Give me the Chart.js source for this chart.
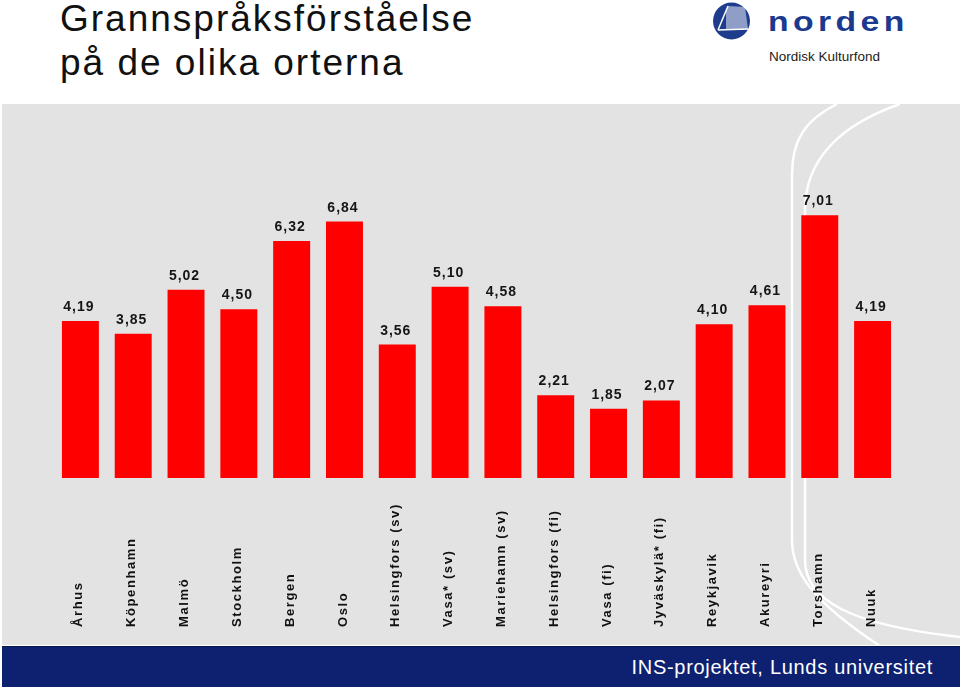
<!DOCTYPE html>
<html lang="sv">
<head>
  <meta charset="UTF-8">
  <title>Grannspråksförståelse</title>
  <script src="https://cdn.jsdelivr.net/npm/chart.js"></script>
  <style>
    body { margin: 0; background: #fff; font-family: "Liberation Sans", Arial, Helvetica, sans-serif; }
    #page { position: relative; width: 960px; height: 687px; overflow: hidden; }
    #title { position: absolute; left: 60px; top: -3px; font-size: 37px; line-height: 44px; letter-spacing: 2px; color: #111; }
    #norden { position: absolute; left: 768px; top: 7px; font-size: 27px; line-height: 30px; font-weight: bold;
              letter-spacing: 3.5px; color: #1b3a8f; transform: scaleX(1.25); transform-origin: left top; }
    #fond { position: absolute; left: 769px; top: 49px; font-size: 13.5px; line-height: 16px; color: #222; }
    #panel { position: absolute; left: 2px; top: 104px; width: 958px; height: 541px; background: #e3e3e3; }
    #deco { position: absolute; left: 0; top: 0; }
    #footer { position: absolute; left: 2px; top: 646px; width: 931px; height: 40px; padding-right: 27px;
              background: #0d2170; border-top: 1px solid #081650; color: #fff; font-size: 20px; line-height: 40px;
              letter-spacing: 0.7px; text-align: right; box-sizing: content-box; }
    #chart { position: absolute; left: 0; top: 103px; }
  </style>
</head>
<body>
<div id="page">
  <div id="title">Grannspråksförståelse<br>på de olika orterna</div>

  <!-- logo -->
  <svg style="position:absolute;left:0;top:0" width="960" height="60">
    <defs><clipPath id="sail"><path d="M718 30 L728 6 L745 7 L748 29 Z"/></clipPath></defs>
    <circle cx="731.5" cy="21" r="18.5" fill="#1e3c8c"/>
    <g clip-path="url(#sail)" stroke="#fff" stroke-width="1">
      <line x1="727" y1="4" x2="727" y2="32"/><line x1="729" y1="4" x2="729" y2="32"/>
      <line x1="731" y1="4" x2="731" y2="32"/><line x1="733" y1="4" x2="733" y2="32"/>
      <line x1="735" y1="4" x2="735" y2="32"/><line x1="737" y1="4" x2="737" y2="32"/>
      <line x1="739" y1="4" x2="739" y2="32"/><line x1="741" y1="4" x2="741" y2="32"/>
      <line x1="743" y1="4" x2="743" y2="32"/><line x1="745" y1="4" x2="745" y2="32"/>
      <line x1="747" y1="4" x2="747" y2="32"/>
    </g>
    <path d="M718 30 L728 6" stroke="#fff" stroke-width="1.5" fill="none"/>
    <path d="M718 30 L748 29" stroke="#fff" stroke-width="1.5" fill="none"/>
  </svg>
  <div id="norden">norden</div>
  <div id="fond">Nordisk Kulturfond</div>

  <div id="panel"></div>
  <svg id="deco" width="960" height="687">
    <path d="M837 104 C805 120 792 140 792 175 L792 540 C792 570 810 600 880 646" stroke="#fff" stroke-width="2.5" fill="none"/>
    <path d="M900 104 C840 125 805 160 805 210 L805 560 C805 600 850 625 960 637" stroke="#fff" stroke-width="2.5" fill="none"/>
  </svg>

  <canvas id="chart" width="960" height="542"></canvas>

  <div id="footer">INS-projektet, Lunds universitet</div>
</div>

<script>
  const places = ['Århus', 'Köpenhamn', 'Malmö', 'Stockholm', 'Bergen', 'Oslo',
    'Helsingfors (sv)', 'Vasa* (sv)', 'Mariehamn (sv)', 'Helsingfors (fi)', 'Vasa (fi)',
    'Jyväskylä* (fi)', 'Reykjavik', 'Akureyri', 'Torshamn', 'Nuuk'];
  const scores = [4.19, 3.85, 5.02, 4.50, 6.32, 6.84, 3.56, 5.10, 4.58, 2.21, 1.85, 2.07, 4.10, 4.61, 7.01, 4.19];

  const fontFam = '"Liberation Sans", Arial, Helvetica, sans-serif';

  // value labels above the bars and vertical place names below
  const labelPlugin = {
    id: 'labels',
    afterDatasetsDraw(chart) {
      const ctx = chart.ctx;
      const meta = chart.getDatasetMeta(0);
      ctx.save();
      ctx.fillStyle = '#151515';
      ctx.font = 'bold 14px ' + fontFam;
      ctx.letterSpacing = '1px';
      ctx.textAlign = 'center';
      ctx.textBaseline = 'alphabetic';
      meta.data.forEach((bar, i) => {
        ctx.fillText(scores[i].toFixed(2).replace('.', ','), bar.x - 1.5, bar.y - 10);
      });

      const xScale = chart.scales.x;
      ctx.font = 'bold 13px ' + fontFam;
      ctx.letterSpacing = '1.6px';
      ctx.fillStyle = '#111';
      ctx.textAlign = 'left';
      ctx.textBaseline = 'middle';
      places.forEach((p, i) => {
        const x = xScale.getPixelForValue(i) - 1.5;
        ctx.save();
        ctx.translate(x, 524);
        ctx.rotate(-Math.PI / 2);
        ctx.fillText(p, 0, 0);
        ctx.restore();
      });
      ctx.restore();
    }
  };

  new Chart(document.getElementById('chart'), {
    type: 'bar',
    data: {
      labels: places,
      datasets: [{
        data: scores,
        backgroundColor: '#ff0000',
        borderWidth: 0,
        categoryPercentage: 1,
        barPercentage: 0.7
      }]
    },
    options: {
      responsive: false,
      animation: false,
      layout: { padding: { left: 54, right: 61, top: 0, bottom: 167 } },
      plugins: { legend: { display: false }, tooltip: { enabled: false } },
      scales: {
        x: { display: false },
        y: { display: false, min: 0, max: 10 }
      }
    },
    plugins: [labelPlugin]
  });
</script>
</body>
</html>
